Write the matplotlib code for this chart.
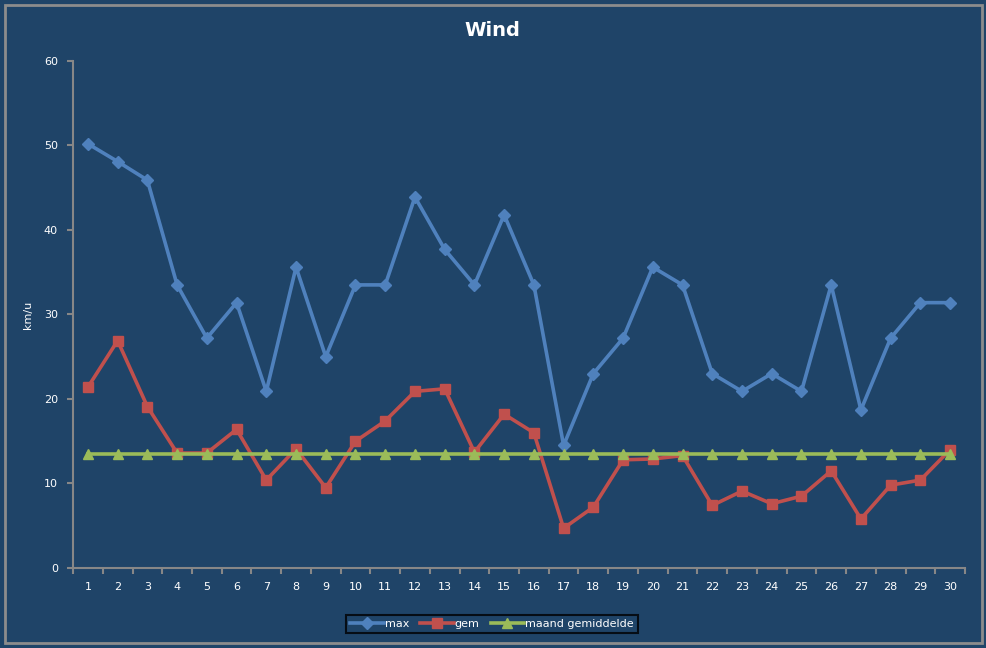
import matplotlib
matplotlib.use("Agg")
import matplotlib.pyplot as plt
from matplotlib.patches import Rectangle

days = list(range(1, 31))
max_wind = [50.2, 48.1, 45.9, 33.5, 27.2, 31.4, 20.9, 35.6, 25.0, 33.5,
            33.5, 43.9, 37.7, 33.5, 41.8, 33.5, 14.5, 23.0, 27.2, 35.6,
            33.5, 23.0, 20.9, 23.0, 20.9, 33.5, 18.7, 27.2, 31.4, 31.4]
gem_wind = [21.4, 26.9, 19.1, 13.6, 13.6, 16.4, 10.4, 14.1, 9.5, 15.0,
            17.4, 20.9, 21.2, 13.7, 18.2, 16.0, 4.7, 7.2, 12.8, 12.9,
            13.3, 7.4, 9.1, 7.6, 8.5, 11.5, 5.8, 9.8, 10.4, 14.0]
maand_gem = [13.5] * 30

bg = "#1F4468"
axis_grey = "#878787"

fig = plt.figure(figsize=(9.87, 6.48), dpi=100, facecolor=bg)
ax = fig.add_axes([0.074, 0.1235, 0.9037, 0.7824], facecolor=bg)

ax.plot(days, max_wind, color="#4F81BD", lw=2.6, marker="D", ms=6, label="max")
ax.plot(days, gem_wind, color="#C0504D", lw=2.6, marker="s", ms=7, label="gem")
ax.plot(days, maand_gem, color="#9BBB59", lw=2.6, marker="^", ms=7,
        label="maand gemiddelde")

ax.set_xlim(0.5, 30.5)
ax.set_ylim(0, 60)
ax.set_yticks(range(0, 61, 10))
ax.set_xticks(days)
ax.set_xticks([d + 0.5 for d in range(0, 31)], minor=True)
ax.tick_params(axis="x", which="major", length=0, pad=10, labelsize=8, labelcolor="white")
ax.tick_params(axis="x", which="minor", length=4, width=1.5, color=axis_grey, direction="out")
ax.tick_params(axis="y", length=4, width=1.5, color=axis_grey, labelsize=8,
               labelcolor="white", pad=7)
for side in ["top", "right"]:
    ax.spines[side].set_visible(False)
for side in ["left", "bottom"]:
    ax.spines[side].set_color(axis_grey)
    ax.spines[side].set_linewidth(1.5)

ax.set_ylabel("km/u", color="white", fontsize=8, labelpad=8)
fig.text(0.499, 0.953, "Wind", color="white", fontsize=14, fontweight="bold",
         ha="center", va="center")

leg = fig.legend(loc="center", bbox_to_anchor=(0.4985, 0.037), ncol=3, fontsize=8,
                 frameon=True, fancybox=False, facecolor=bg, edgecolor="black",
                 handlelength=3.0, handletextpad=0.1, columnspacing=1.0,
                 borderpad=0.4)
leg.get_frame().set_linewidth(1.5)
for t in leg.get_texts():
    t.set_color("white")

fig.patches.append(Rectangle((5 / 987, 5 / 648), 1 - 10 / 987, 1 - 10 / 648,
                             transform=fig.transFigure, fill=False,
                             edgecolor="#8C8C8C", lw=2))

fig.savefig("out.png", dpi=100, facecolor=bg)
